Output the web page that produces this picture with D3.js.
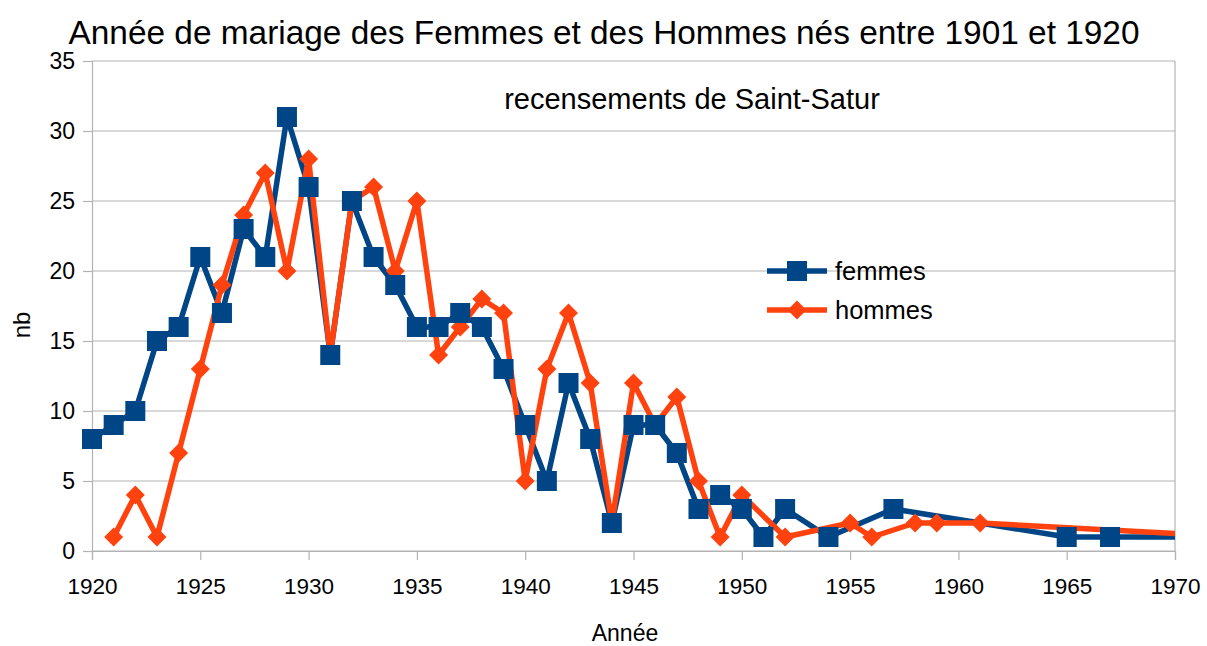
<!DOCTYPE html>
<html>
<head>
<meta charset="utf-8">
<script src="https://cdn.jsdelivr.net/npm/d3@7"></script>
<style>
  html, body { margin: 0; padding: 0; background: #fff; }
  svg { display: block; font-family: "Liberation Sans", Arial, sans-serif; }
</style>
</head>
<body>
<svg id="chart" width="1207" height="646"></svg>
<script>
// Marriages per year, by sex, for people born 1901-1920 (Saint-Satur censuses)
const femmesYears  = [1920,1921,1922,1923,1924,1925,1926,1927,1928,1929,1930,1931,1932,1933,1934,1935,1936,1937,1938,1939,1940,1941,1942,1943,1944,1945,1946,1947,1948,1949,1950,1951,1952,1954,1957,1965,1967,1972];
const femmesValues = [8,9,10,15,16,21,17,23,21,31,26,14,25,21,19,16,16,17,16,13,9,5,12,8,2,9,9,7,3,4,3,1,3,1,3,1,1,1];

const hommesYears  = [1921,1922,1923,1924,1925,1926,1927,1928,1929,1930,1931,1932,1933,1934,1935,1936,1937,1938,1939,1940,1941,1942,1943,1944,1945,1946,1947,1948,1949,1950,1952,1955,1956,1958,1959,1961,1973];
const hommesValues = [1,4,1,7,13,19,24,27,20,28,14,25,26,20,25,14,16,18,17,5,13,17,12,2,12,9,11,5,1,4,1,2,1,2,2,2,1];

const xTicks = [1920,1925,1930,1935,1940,1945,1950,1955,1960,1965,1970];
const yTicks = [0,5,10,15,20,25,30,35];

const seriesNames = ["femmes", "hommes"];
const seriesColors = ["#004586", "#ff420e"];

const femmes = femmesYears.map((y, i) => ({ year: y, value: femmesValues[i] }));
const hommes = hommesYears.map((y, i) => ({ year: y, value: hommesValues[i] }));

const svg = d3.select("#chart");
const plot = { left: 92, right: 1175, top: 61, bottom: 551 };
const gridColor = "#b3b3b3";

const x = d3.scaleLinear().domain([1920, 1970]).range([plot.left, plot.right]);
const y = d3.scaleLinear().domain([0, 35]).range([plot.bottom, plot.top]);

// Lines are cut at the right edge of the axis range
svg.append("defs").append("clipPath").attr("id", "plotClip")
  .append("rect")
  .attr("x", plot.left - 20).attr("y", plot.top - 20)
  .attr("width", plot.right - plot.left + 20).attr("height", plot.bottom - plot.top + 40);

// Horizontal gridlines
svg.append("g")
  .selectAll("line")
  .data(yTicks)
  .join("line")
  .attr("x1", plot.left).attr("x2", plot.right)
  .attr("y1", d => y(d)).attr("y2", d => y(d))
  .attr("stroke", gridColor).attr("stroke-width", 1.2);

// Right frame edge
svg.append("line")
  .attr("x1", plot.right).attr("x2", plot.right)
  .attr("y1", plot.top).attr("y2", plot.bottom)
  .attr("stroke", gridColor).attr("stroke-width", 1.2);

// Y axis
const yAxis = svg.append("g")
  .attr("transform", `translate(${plot.left},0)`)
  .call(d3.axisLeft(y).tickValues(yTicks).tickSize(9).tickPadding(8));
yAxis.select(".domain").attr("stroke", gridColor).attr("stroke-width", 1.2);
yAxis.selectAll(".tick line").attr("stroke", gridColor).attr("stroke-width", 1.2);
yAxis.selectAll(".tick text")
  .attr("font-size", 23).attr("fill", "#000")
  .attr("font-family", "Liberation Sans, Arial, sans-serif");

// X axis
const xAxis = svg.append("g")
  .attr("transform", `translate(0,${plot.bottom})`)
  .call(d3.axisBottom(x).tickValues(xTicks).tickFormat(d3.format("d")).tickSize(9).tickPadding(18));
xAxis.select(".domain").attr("stroke", gridColor).attr("stroke-width", 1.2);
xAxis.selectAll(".tick line").attr("stroke", gridColor).attr("stroke-width", 1.2);
xAxis.selectAll(".tick text")
  .attr("font-size", 22.5).attr("fill", "#000")
  .attr("font-family", "Liberation Sans, Arial, sans-serif");

// Series lines
const line = d3.line().x(d => x(d.year)).y(d => y(d.value));
const lines = svg.append("g").attr("clip-path", "url(#plotClip)");
[femmes, hommes].forEach((data, i) => {
  lines.append("path")
    .datum(data)
    .attr("d", line)
    .attr("fill", "none")
    .attr("stroke", seriesColors[i])
    .attr("stroke-width", 5.5)
    .attr("stroke-linejoin", "round");
});

// Markers: diamonds for hommes, squares for femmes on top
const markers = svg.append("g");
const diamond = s => `M0,${-s}L${s},0L0,${s}L${-s},0Z`;
const sq = 20;
markers.selectAll("path.h")
  .data(hommes.filter(d => d.year <= 1970))
  .join("path")
  .attr("class", "h")
  .attr("d", diamond(9.5))
  .attr("transform", d => `translate(${x(d.year)},${y(d.value)})`)
  .attr("fill", seriesColors[1]);

markers.selectAll("rect.f")
  .data(femmes.filter(d => d.year <= 1970))
  .join("rect")
  .attr("class", "f")
  .attr("x", d => x(d.year) - sq / 2).attr("y", d => y(d.value) - sq / 2)
  .attr("width", sq).attr("height", sq)
  .attr("fill", seriesColors[0]);

// Title, subtitle and axis titles
svg.append("text")
  .attr("x", 604).attr("y", 44)
  .attr("text-anchor", "middle")
  .attr("font-size", 33.4)
  .text("Année de mariage des Femmes et des Hommes nés entre 1901 et 1920");

svg.append("text")
  .attr("x", 692).attr("y", 109)
  .attr("text-anchor", "middle")
  .attr("font-size", 29)
  .text("recensements de Saint-Satur");

svg.append("text")
  .attr("x", 625).attr("y", 641)
  .attr("text-anchor", "middle")
  .attr("font-size", 23)
  .text("Année");

svg.append("text")
  .attr("transform", "translate(30,325) rotate(-90)")
  .attr("text-anchor", "middle")
  .attr("font-size", 24)
  .text("nb");

// Legend
const legend = svg.append("g").attr("transform", "translate(767,271)");
seriesNames.forEach((name, i) => {
  const g = legend.append("g").attr("transform", `translate(0,${i * 39})`);
  g.append("line")
    .attr("x1", 0).attr("x2", 60).attr("y1", 0).attr("y2", 0)
    .attr("stroke", seriesColors[i]).attr("stroke-width", 5.5);
  if (i === 0) {
    g.append("rect").attr("x", 30 - sq / 2).attr("y", -sq / 2).attr("width", sq).attr("height", sq)
      .attr("fill", seriesColors[i]);
  } else {
    g.append("path").attr("d", diamond(9.5)).attr("transform", "translate(30,0)")
      .attr("fill", seriesColors[i]);
  }
  g.append("text")
    .attr("x", 68).attr("y", 9)
    .attr("font-size", 25.5)
    .text(name);
});
</script>
</body>
</html>
